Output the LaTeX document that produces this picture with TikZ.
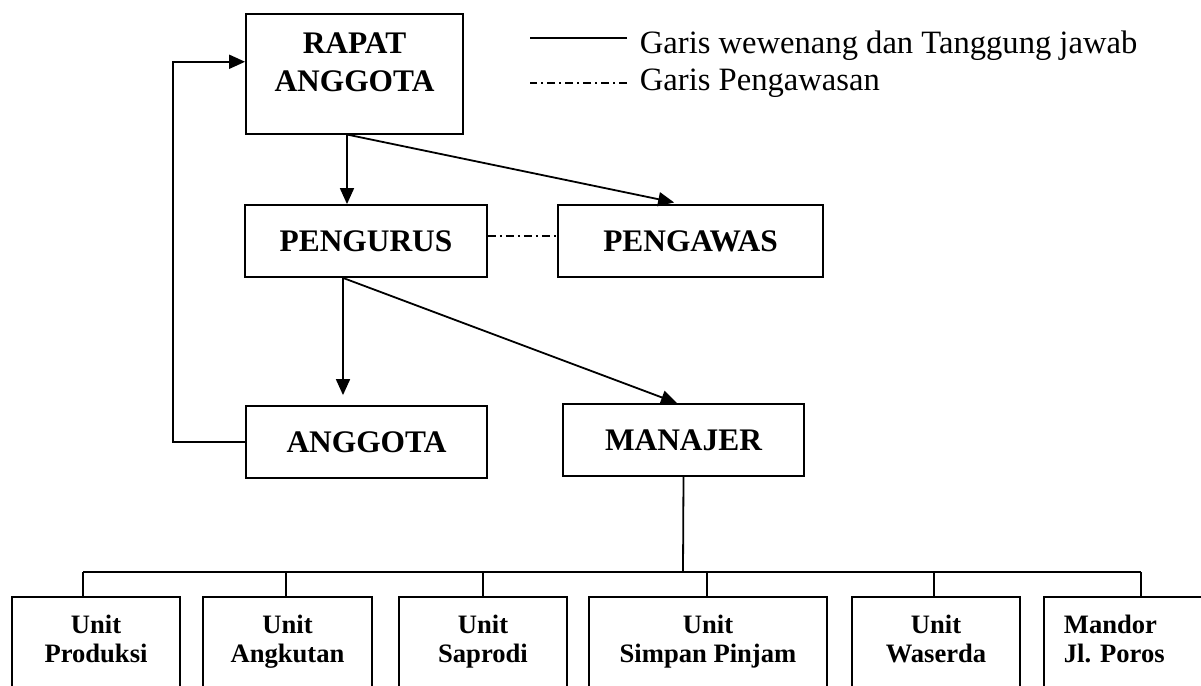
\documentclass[tikz,border=0pt]{standalone}
\usepackage{fontspec}
\setmainfont{Liberation Serif}
\usetikzlibrary{arrows.meta}

\begin{document}
\begin{tikzpicture}[x=0.5pt,y=-0.5pt,line width=0.9pt,>={Triangle[length=8pt,width=7pt]},
  orgbox/.style={draw,minimum height=36pt,font=\fontsize{15.7pt}{19pt}\selectfont\bfseries},
  unitbox/.style={draw,anchor=north,inner ysep=9.3pt,text depth=40pt,align=center,font=\fontsize{13.3pt}{14.5pt}\selectfont\bfseries},
  awas/.style={line width=0.7pt,dash pattern=on 4pt off 2pt on 1pt off 2pt},
  legend/.style={inner sep=0pt,anchor=base west,font=\fontsize{16.3pt}{19pt}\selectfont}]
\useasboundingbox (0,0) rectangle (1201,686);
\clip (0,0) rectangle (1201,686);
\node[orgbox,anchor=north,minimum height=0pt,minimum width=108.5pt,inner ysep=9.5pt,text depth=11.5pt,align=center] (rapat) at (354.5,13) {RAPAT\\ANGGOTA};
\node[orgbox,minimum width=121pt] (pengurus) at (366,241) {PENGURUS};
\node[orgbox,minimum width=132.5pt] (pengawas) at (690.5,241) {PENGAWAS};
\node[orgbox,minimum width=120.5pt] (anggota) at (366.5,442) {ANGGOTA};
\node[orgbox,minimum width=120.5pt] (manajer) at (683.5,440) {MANAJER};
\node[legend] (leg1) at (639,53) {Garis wewenang dan Tanggung jawab};
\node[legend] (leg2) at (639,90) {Garis Pengawasan};
\draw ([xshift=-6pt,yshift=7.5pt]leg1.base west) -- ++(-97,0);
\draw[awas] ([xshift=-6pt,yshift=3.5pt]leg2.base west) -- ++(-97,0);
\draw[->] ([xshift=-3.75pt]rapat.south) -- ([xshift=-3.75pt]rapat.south |- pengurus.north);
\draw[->,shorten >=4pt] ([xshift=-3.75pt]rapat.south) -- ([xshift=-4.25pt]pengawas.north);
\draw[awas] ([yshift=2.5pt]pengurus.east) -- ([yshift=2.5pt]pengawas.west);
\draw[->,shorten >=5pt] ([xshift=-11.5pt]pengurus.south) -- ([xshift=-11.5pt]pengurus.south |- anggota.north);
\draw[->] ([xshift=-11.5pt]pengurus.south) -- ([xshift=-3.25pt]manajer.north);
\draw[->] (anggota.west) -- ++(-72,0) |- ([yshift=6pt]rapat.west);
\node[unitbox,minimum width=84pt] (produksi) at (96,596) {Unit\\Produksi};
\node[unitbox,minimum width=84.5pt] (angkutan) at (287.5,596) {Unit\\Angkutan};
\node[unitbox,minimum width=84pt] (saprodi) at (483,596) {Unit\\Saprodi};
\node[unitbox,minimum width=119pt] (simpan) at (708,596) {Unit\\Simpan Pinjam};
\node[unitbox,minimum width=84pt] (waserda) at (936,596) {Unit\\Waserda};
\node[unitbox,anchor=north west,align=left,text width=65pt,inner xsep=10pt] (mandor) at (1043,596) {Mandor\\Jl.\ Poros};
\coordinate (bus) at (683,572);
\draw (manajer.south) -- (bus);
\draw ([xshift=-6.5pt]produksi.north |- bus) -- ([xshift=6pt]mandor.north |- bus);
\foreach \u/\dx in {produksi/-6.5,angkutan/-0.75,saprodi/0,simpan/-0.5,waserda/-1,mandor/6}
  \draw ([xshift=\dx pt]\u.north) -- ([xshift=\dx pt]\u.north |- bus);
\end{tikzpicture}
\end{document}
